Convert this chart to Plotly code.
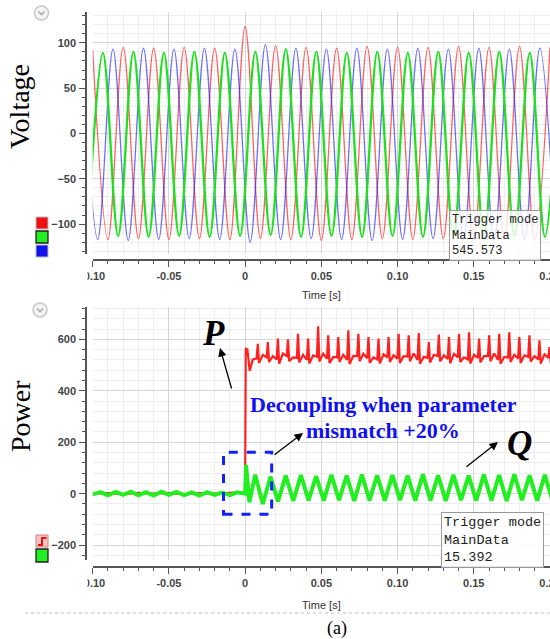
import plotly.graph_objects as go

# ---------------- data ----------------
time_tick_vals = [-0.10, -0.05, 0, 0.05, 0.10, 0.15, 0.20]
time_tick_text = ["-0.10", "-0.05", "0", "0.05", "0.10", "0.15", "0.20"]
volt_tick_vals = [-100, -50, 0, 50, 100]
power_tick_vals = [-200, 0, 200, 400, 600]

# three-phase voltage: successive extremes, half a period (0.01 s) apart
half_period = 0.01
red_start = -0.1      # first extreme is a peak
green_start = -0.1033  # first extreme is a trough
blue_start = -0.1067   # first extreme is a peak
red_peaks = [92, 95, 94, 95, 94, 118, 97, 95, 94, 96, 95, 95, 96, 95, 96, 95]
red_troughs = [-117, -116, -117, -116, -117, -116, -117, -118, -117, -116, -117, -116, -117, -116, -117]
green_troughs = [-114, -113, -114, -113, -114, -113, -112, -114, -113, -114, -113, -114, -113, -114, -113, -114]
green_peaks = [89, 90, 89, 90, 89, 90, 93, 90, 89, 90, 89, 90, 89, 90, 89, 90]
blue_peaks = [93, 93, 94, 93, 94, 93, 98, 94, 93, 94, 93, 94, 93, 94, 93, 94]
blue_troughs = [-117, -118, -117, -116, -117, -120, -117, -116, -117, -118, -117, -116, -117, -118, -117, -116]

# reactive power Q
q_pre_t0, q_pre_step = -0.1, 0.005
q_pre = [-3, 6, -6, 7, -5, 8, -6, 6, -7, 8, -5, 7, -6, 5, -7, 6, -5, 4, -6, 5, 0]
q_jump_t = [0.0006, 0.0028]
q_jump = [112, -34]
q_post_t0, q_post_step = 0.0066, 0.005
q_post_peaks = [74, 66, 70, 72, 68, 73, 70, 74, 71, 72, 70, 75, 71, 73, 70, 74, 72, 75, 71, 73]
q_post_troughs = [-40, -30, -28, -26, -27, -25, -28, -26, -27, -25, -27, -26, -28, -25, -27, -26, -28, -25, -27, -26]

# active power P
p_pre_t0, p_pre_step = -0.1, 0.01
p_pre = [0, 2, -2, 3, 0, 2, -3, 2, 0, 4, 6]
p_jump_t = [0.0004, 0.0015, 0.003, 0.005]
p_jump = [566, 560, 478, 522]
p_spike_t0, p_spike_period = 0.0083, 0.0066
p_peak = [583, 590, 603, 600, 622, 603, 651, 616, 609, 635, 622, 609, 603, 609, 622,
          616, 625, 590, 619, 609, 622, 628, 603, 616, 622, 628, 609, 616, 596, 570]
p_base = [525, 530, 522, 535, 528, 520, 532, 525, 530, 520, 535, 527, 522, 530, 525,
          533, 520, 528, 535, 524, 530, 522, 528, 535, 520, 530, 526, 532, 522, 528]
p_dip = [508, 512, 505, 515, 510, 506, 514, 508, 512, 504, 515, 509, 506, 512, 508,
         515, 505, 510, 514, 507, 512, 506, 510, 515, 505, 512, 508, 514, 506, 510]
p_mid = [540, 535, 545, 530, 540, 538, 545, 532, 540, 536, 544, 530, 542, 538, 535,
         545, 532, 540, 538, 544, 530, 540, 536, 545, 532, 540, 538, 535, 542, 540]


# ---------------- build series ----------------
def alternate(a, b):
    out = []
    for i in range(max(len(a), len(b))):
        if i < len(a):
            out.append(a[i])
        if i < len(b):
            out.append(b[i])
    return out


red_v = alternate(red_peaks, red_troughs)
red_t = [red_start + half_period * k for k in range(len(red_v))]
green_v = alternate(green_troughs, green_peaks)
green_t = [green_start + half_period * k for k in range(len(green_v))]
blue_v = alternate(blue_peaks, blue_troughs)
blue_t = [blue_start + half_period * k for k in range(len(blue_v))]

q_post = alternate(q_post_peaks, q_post_troughs)
q_t = ([q_pre_t0 + q_pre_step * k for k in range(len(q_pre))] + q_jump_t +
       [q_post_t0 + q_post_step * k for k in range(len(q_post))])
q_v = q_pre + q_jump + q_post

p_t = [p_pre_t0 + p_pre_step * k for k in range(len(p_pre))] + p_jump_t
p_v = p_pre + p_jump
for k in range(len(p_peak)):
    tk = p_spike_t0 + p_spike_period * k
    p_t += [tk - 0.0008, tk, tk + 0.0008, tk + 0.0033]
    p_v += [p_base[k], p_peak[k], p_dip[k], p_mid[k]]

# ---------------- figure ----------------
W, H = 550, 639


def X(px):
    return px / W


def Y(py):
    return 1 - py / H


fig = go.Figure()
fig.add_trace(go.Scatter(x=red_t, y=red_v, xaxis="x", yaxis="y", mode="lines",
                         line=dict(color="rgba(255,30,30,0.7)", width=1.3, shape="spline")))
fig.add_trace(go.Scatter(x=blue_t, y=blue_v, xaxis="x", yaxis="y", mode="lines",
                         line=dict(color="rgba(30,30,255,0.65)", width=1.3, shape="spline")))
fig.add_trace(go.Scatter(x=green_t, y=green_v, xaxis="x", yaxis="y", mode="lines",
                         line=dict(color="#1fe01f", width=2.3, shape="spline")))
fig.add_trace(go.Scatter(x=p_t, y=p_v, xaxis="x2", yaxis="y2", mode="lines",
                         line=dict(color="#ff2020", width=2.2)))
fig.add_trace(go.Scatter(x=q_t, y=q_v, xaxis="x2", yaxis="y2", mode="lines",
                         line=dict(color="#22ee22", width=4.0)))

tickfont = dict(family="Liberation Sans", size=11, color="#444", weight="bold")
axis_common = dict(showline=True, linecolor="#555", linewidth=1.5, ticks="outside",
                   ticklen=6, tickwidth=1.3, tickcolor="#555", showgrid=True,
                   gridcolor="#d6d6d6", gridwidth=1, zeroline=False, tickfont=tickfont,
                   automargin=False)

xdom = [X(92.7), 1]
xcommon = dict(axis_common, domain=xdom, range=[-0.1, 0.2], anchor="free",
               tickvals=time_tick_vals, ticktext=time_tick_text, ticklabeloverflow="allow",
               minor=dict(dtick=0.01, tick0=0, ticks="outside", ticklen=3,
                          tickcolor="#555", showgrid=True, gridcolor="#eeeeee"))

fig.update_layout(
    width=W, height=H, margin=dict(l=0, r=0, t=0, b=0, pad=0, autoexpand=False),
    paper_bgcolor="white", plot_bgcolor="white", showlegend=False,
    xaxis=dict(xcommon, position=Y(260)),
    yaxis=dict(axis_common, domain=[Y(254), Y(12)], range=[-133, 134], anchor="free",
               position=X(86), tickvals=volt_tick_vals, ticklabelstandoff=1,
               minor=dict(dtick=10, ticks="outside", ticklen=3, tickcolor="#555",
                          showgrid=True, gridcolor="#eeeeee")),
    xaxis2=dict(xcommon, position=Y(567)),
    yaxis2=dict(axis_common, domain=[Y(560), Y(307)], range=[-258, 726], anchor="free",
                position=X(86), tickvals=power_tick_vals, ticklabelstandoff=1,
                minor=dict(dtick=40, ticks="outside", ticklen=3, tickcolor="#555",
                           showgrid=True, gridcolor="#eeeeee")),
)

shapes = []


def rect(x0, y0, x1, y1, fill, line, lw=1):
    shapes.append(dict(type="rect", xref="paper", yref="paper", x0=X(x0), x1=X(x1),
                       y0=Y(y1), y1=Y(y0), fillcolor=fill, line=dict(color=line, width=lw),
                       layer="above"))


# legend swatches
rect(36, 217, 48, 229, "#ee1111", "#bbbbbb")
rect(36, 231, 48, 243, "#22ee22", "#222222", 1.3)
rect(36, 245, 48, 257, "#1111ee", "#bbbbbb")
rect(36, 535, 48, 547, "#f7c4c4", "#d08080")
shapes.append(dict(type="path", xref="paper", yref="paper",
                   path=f"M {X(38)},{Y(545)} L {X(42)},{Y(545)} L {X(42)},{Y(538)} L {X(46.5)},{Y(538)}",
                   line=dict(color="#ee1111", width=2), layer="above"))
rect(36, 549, 48, 562, "#22ee22", "#222222", 1.3)

# collapse icons
for cx, cy in [(41.5, 13), (40, 310)]:
    shapes.append(dict(type="circle", xref="paper", yref="paper", x0=X(cx - 7), x1=X(cx + 7),
                       y0=Y(cy + 7), y1=Y(cy - 7), fillcolor="#f4f4f4",
                       line=dict(color="#c8c8c8", width=1.5), layer="above"))
    shapes.append(dict(type="path", xref="paper", yref="paper",
                       path=f"M {X(cx-3)},{Y(cy-1.5)} L {X(cx)},{Y(cy+1.5)} L {X(cx+3)},{Y(cy-1.5)}",
                       line=dict(color="#aaaaaa", width=1.6), layer="above"))

# clipping of the leftmost tick label
for y0, y1 in [(268, 290), (576, 598)]:
    shapes.append(dict(type="rect", xref="paper", yref="paper", x0=X(60), x1=X(87.5),
                       y0=Y(y1), y1=Y(y0), fillcolor="white", line=dict(width=0), layer="above"))

# dashed box around transient
shapes.append(dict(type="rect", xref="x2", yref="y2", x0=-0.0142, x1=0.0174, y0=-80, y1=161,
                   line=dict(color="#1020ff", width=3, dash="dash"), layer="above"))
# dotted separator
shapes.append(dict(type="line", xref="paper", yref="paper", x0=X(25), x1=X(550), y0=Y(613), y1=Y(613),
                   line=dict(color="#c0c0c0", width=1, dash="dot")))

fig.update_layout(shapes=shapes)

ann = []
serif = "Liberation Serif"
ann.append(dict(text="Voltage", x=X(20), y=Y(107), textangle=-90, font=dict(family=serif, size=28, color="black")))
ann.append(dict(text="Power", x=X(20), y=Y(416), textangle=-90, font=dict(family=serif, size=28, color="black")))
ann.append(dict(text="Time [s]", x=X(321), y=Y(295), font=dict(family="Liberation Sans", size=11, color="#333")))
ann.append(dict(text="Time [s]", x=X(321), y=Y(605), font=dict(family="Liberation Sans", size=11, color="#333")))
ann.append(dict(text="(a)", x=X(337), y=Y(628), font=dict(family=serif, size=18, color="black")))
ann.append(dict(text="<b><i>P</i></b>", x=X(213), y=Y(333), font=dict(family=serif, size=35, color="black")))
ann.append(dict(text="<b><i>Q</i></b>", x=X(519), y=Y(443), font=dict(family=serif, size=35, color="black")))
ann.append(dict(text="<b>Decoupling when parameter</b>", x=X(383), y=Y(404),
                font=dict(family=serif, size=22, color="#1010f0")))
ann.append(dict(text="<b>mismatch +20%</b>", x=X(383), y=Y(430),
                font=dict(family=serif, size=22, color="#1010f0")))
for t in ann:
    t.update(xref="paper", yref="paper", showarrow=False, xanchor="center", yanchor="middle")

# arrows
for hx, hy, tx, ty in [(220, 348, 232, 390), (303, 433, 273, 456), (498, 442, 465, 468)]:
    ann.append(dict(text="", x=X(hx), y=Y(hy), xref="paper", yref="paper", showarrow=True,
                    ax=tx - hx, ay=ty - hy, arrowhead=2, arrowsize=1.3, arrowwidth=1.3,
                    arrowcolor="black", standoff=0))

# info boxes
ann.append(dict(text="Trigger mode<br>MainData<br>545.573", x=X(449), y=Y(210), xref="paper", yref="paper",
                xanchor="left", yanchor="top", align="left", showarrow=False,
                font=dict(family="Liberation Mono", size=12, color="#222"),
                bgcolor="rgba(255,255,255,0.8)", bordercolor="#999", borderwidth=1, borderpad=2))
ann.append(dict(text="Trigger mode<br>MainData<br>15.392", x=X(441), y=Y(512), xref="paper", yref="paper",
                xanchor="left", yanchor="top", align="left", showarrow=False,
                font=dict(family="Liberation Mono", size=13.5, color="#222"),
                bgcolor="rgba(255,255,255,0.85)", bordercolor="#999", borderwidth=1, borderpad=2))

fig.update_layout(annotations=ann)
fig.write_html("out.html", config={"displayModeBar": False},
               post_script="document.body.style.margin='0';document.body.style.overflow='hidden';")
